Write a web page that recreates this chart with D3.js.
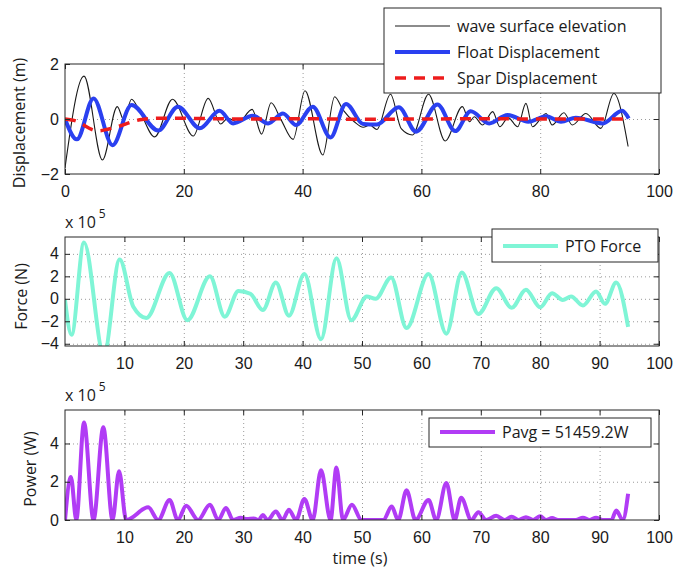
<!DOCTYPE html>
<html>
<head>
<meta charset="utf-8">
<script src="https://cdn.jsdelivr.net/npm/d3@7"></script>
<style>
body { margin: 0; background: #ffffff; }
svg { font-family: "Open Sans", sans-serif; }
.tick line { stroke: #262626; }
.grid line { stroke: #9a9a9a; stroke-dasharray: 1,3; }
</style>
</head>
<body>
<div id="chart"></div>
<script>
// time axis ticks
var timeTicksTop = [0, 20, 40, 60, 80, 100];
var timeTicks = [10, 20, 30, 40, 50, 60, 70, 80, 90, 100];

// y axis ticks
var dispTicks = [-2, 0, 2];
var forceTicks = [-4, -2, 0, 2, 4];
var powerTicks = [0, 2, 4];

// series values: [time (s), value]
var waveElevation = [
    [0, -1.78], [3.2, 1.56], [6.3, -1.49], [8.8, 0.45], [9.9, -0.03], [11.2, 0.72],
    [12.6, 0.27], [15.1, -0.65], [18.1, 0.72], [21.6, -0.62], [24.1, 0.75], [26.2, -0.18],
    [27.4, 0.03], [29.2, -0.12], [31.5, 0.35], [33.1, -0.55], [34.7, 0.59], [36.4, -0.04],
    [38.4, -0.74], [40.4, 1.03], [43.4, -1.31], [45.4, 0.81], [46.8, 0.33], [48.7, -0.1],
    [50.2, -0.3], [51.3, -0.22], [52.5, -0.38], [54.8, 0.9], [56.6, -0.35], [58.5, -0.58],
    [61.2, 0.9], [64, -0.8], [66.9, 0.45], [68.1, -0.1], [68.9, 0.08], [70.3, -0.22],
    [72, 0.27], [73.2, -0.28], [74.6, 0.05], [76.2, -0.28], [77.6, 0.57], [78.7, -0.28],
    [81, 0.2], [82, -0.22], [84, 0.23], [85.4, -0.22], [87.7, 0.2], [90.2, -0.34],
    [92.4, 0.93], [94.8, -1.0]
];
var floatDisplacement = [
    [0, 0], [2, -0.74], [4.8, 0.75], [8, -0.95], [11.2, 0.51], [15.7, -0.42], [19, 0.45],
    [22.7, -0.34], [26, 0.3], [28.3, -0.16], [31.6, 0.12], [34.2, -0.16], [36.7, 0.2],
    [38.9, -0.22], [41.7, 0.45], [44.7, -0.67], [47.3, 0.55], [50.2, -0.18], [52.5, -0.2],
    [56.2, 0.43], [59.1, -0.46], [62.7, 0.53], [65.7, -0.44], [68.3, 0.28], [71.4, -0.16],
    [74.5, 0.15], [78, -0.1], [81, 0.1], [83.5, -0.1], [86, 0.05], [90.5, -0.16],
    [93.8, 0.3], [94.9, 0.02]
];
var sparDisplacement = [
    [0, 0], [1.5, -0.05], [5.5, -0.43], [8.5, -0.3], [12.6, -0.03], [16, 0.03], [22, 0.02],
    [30, 0], [40, 0.01], [50, -0.01], [60, 0], [70, 0.01], [80, 0], [90, 0], [94.9, 0]
];
var ptoForce = [
    [0, -0.1], [1.1, -3.2], [3.2, 5.0], [6.55, -5.0], [9.2, 3.5], [11.5, -0.7], [13.7, -1.7],
    [17.6, 2.3], [20.6, -1.9], [24.4, 2.0], [26.9, -1.6], [29.2, 0.7], [31.2, 0.45],
    [33.3, -1.0], [35.5, 1.45], [37.7, -1.5], [40.3, 2.2], [43.1, -3.6], [45.7, 3.6],
    [48.2, -1.9], [50.8, 0.2], [52.3, 0.0], [54.9, 1.9], [57.5, -2.6], [61.2, 2.2],
    [64.2, -3.1], [66.8, 2.35], [69.6, -1.35], [72.6, 0.95], [75.2, -0.8], [77.6, 0.8],
    [80, -0.75], [82, 0.5], [83.8, -0.1], [85.2, 0.2], [87.2, -0.6], [89.4, 0.65],
    [90.9, -0.45], [92.8, 1.45], [94.8, -2.5]
];
var powerOutput = [
    [0, 0], [1.0, 2.25], [1.9, 0], [3.2, 5.1], [4.8, 0], [6.45, 4.85], [8.0, 0], [9.1, 2.55],
    [10.3, 0], [14, 0.66], [15.7, 0], [17.6, 1.05], [19, 0], [20.4, 0.75], [22.4, 0],
    [24.4, 0.8], [25.8, 0], [27.1, 0.63], [28.3, 0], [29.6, 0.12], [30.6, 0.05], [31.8, 0.08],
    [32.6, 0], [33.3, 0.26], [34.1, 0], [35.5, 0.44], [36.6, 0], [37.7, 0.53], [38.9, 0],
    [40.3, 1.1], [41.7, 0], [43.1, 2.6], [44.7, 0], [45.7, 2.75], [46.8, 0], [48.3, 0.8],
    [49.9, 0], [53.6, 0], [55, 0.7], [56.1, 0], [57.5, 1.55], [59, 0], [61.2, 1.05],
    [62.5, 0], [64.2, 1.93], [65.6, 0], [66.7, 1.16], [68.4, 0], [69.6, 0.4], [70.9, 0],
    [72.6, 0.22], [74, 0], [75.2, 0.17], [76.4, 0], [77.6, 0.15], [78.8, 0], [80, 0.2],
    [81, 0], [82, 0.1], [83, 0], [86, 0], [87.2, 0.12], [88.3, 0], [89.4, 0.12], [90.5, 0],
    [92, 0], [92.8, 0.5], [93.9, 0], [94.8, 1.37]
];

var dispLegend = ["wave surface elevation", "Float Displacement", "Spar Displacement"];
var forceLegend = ["PTO Force"];
var powerLegend = ["Pavg = 51459.2W"];

var width = 684;
var height = 570;
var plotLeft = 65;
var plotRight = 659;
var tickLen = 5;

var svg = d3.select("#chart").append("svg")
    .attr("width", width)
    .attr("height", height);

var x = d3.scaleLinear().domain([0, 100]).range([plotLeft, plotRight]);
var intFormat = d3.format("d");

var line = function(yScale) {
    return d3.line()
        .x(function(d) { return x(d[0]); })
        .y(function(d) { return yScale(d[1]); })
        .curve(d3.curveMonotoneX);
};

var drawPanel = function(opts) {
    var y = d3.scaleLinear().domain(opts.yDomain).range([opts.bottom, opts.top]);
    var g = svg.append("g");
    var h = opts.bottom - opts.top;
    var w = plotRight - plotLeft;

    // grid
    g.append("g").attr("class", "grid")
        .attr("transform", "translate(0," + opts.bottom + ")")
        .call(d3.axisBottom(x).tickValues(opts.xTicks.filter(function(t) { return t > 0 && t < 100; }))
            .tickSize(-h).tickFormat(""))
        .select(".domain").remove();
    g.append("g").attr("class", "grid")
        .attr("transform", "translate(" + plotLeft + ",0)")
        .call(d3.axisLeft(y).tickValues(opts.yTicks.filter(function(t) {
                return y(t) > opts.top + 2 && y(t) < opts.bottom - 2;
            }))
            .tickSize(-w).tickFormat(""))
        .select(".domain").remove();

    // series
    var clipId = "clip" + opts.top;
    svg.append("clipPath").attr("id", clipId)
        .append("rect")
        .attr("x", plotLeft).attr("y", opts.top)
        .attr("width", w).attr("height", h);

    var seriesGroup = g.append("g").attr("clip-path", "url(#" + clipId + ")");
    opts.series.forEach(function(s) {
        seriesGroup.append("path")
            .datum(s.data)
            .attr("fill", "none")
            .attr("stroke", s.colour)
            .attr("stroke-width", s.width)
            .attr("stroke-dasharray", s.dash || null)
            .attr("stroke-linejoin", "round")
            .attr("d", line(y));
    });

    // axes with inward ticks
    var xAxis = g.append("g")
        .attr("transform", "translate(0," + opts.bottom + ")")
        .call(d3.axisBottom(x).tickValues(opts.xTicks).tickFormat(intFormat)
            .tickSizeInner(-tickLen).tickSizeOuter(0).tickPadding(12));
    xAxis.selectAll("text").attr("font-size", "16px").attr("fill", "#1a1a1a");
    g.append("g")
        .attr("transform", "translate(0," + opts.top + ")")
        .call(d3.axisTop(x).tickValues(opts.xTicks).tickSizeInner(-tickLen).tickSizeOuter(0).tickFormat(""));
    var yAxis = g.append("g")
        .attr("transform", "translate(" + plotLeft + ",0)")
        .call(d3.axisLeft(y).tickValues(opts.yTicks).tickFormat(intFormat)
            .tickSizeInner(-tickLen).tickSizeOuter(0).tickPadding(6));
    yAxis.selectAll("text").attr("font-size", "16px").attr("fill", "#1a1a1a");
    g.append("g")
        .attr("transform", "translate(" + plotRight + ",0)")
        .call(d3.axisRight(y).tickValues(opts.yTicks).tickSizeInner(-tickLen).tickSizeOuter(0).tickFormat(""));
    g.selectAll(".domain").remove();

    // box
    g.append("rect")
        .attr("x", plotLeft).attr("y", opts.top)
        .attr("width", w).attr("height", h)
        .attr("fill", "none")
        .attr("stroke", "#262626")
        .attr("stroke-width", 1);

    // y label
    g.append("text")
        .attr("transform", "translate(" + opts.labelX + "," + ((opts.top + opts.bottom) / 2 + opts.labelShift) + ") rotate(-90)")
        .attr("text-anchor", "middle")
        .attr("font-size", "16px")
        .attr("fill", "#1a1a1a")
        .text(opts.yLabel);

    // exponent label
    if (opts.exponent) {
        var ex = g.append("text")
            .attr("x", plotLeft)
            .attr("y", opts.top - 9)
            .attr("font-size", "16px")
            .attr("fill", "#1a1a1a")
            .text("x 10");
        ex.append("tspan")
            .attr("dx", 3)
            .attr("dy", -10)
            .attr("font-size", "12px")
            .text(opts.exponent);
    }

    // legend
    var lg = opts.legend;
    var leg = svg.append("g");
    leg.append("rect")
        .attr("x", lg.x).attr("y", lg.y)
        .attr("width", lg.w).attr("height", lg.h)
        .attr("fill", "#ffffff")
        .attr("stroke", "#262626")
        .attr("stroke-width", 1);
    lg.labels.forEach(function(label, i) {
        var s = opts.series[i];
        var ry = lg.y + lg.first + i * lg.step;
        leg.append("line")
            .attr("x1", lg.x + 11).attr("x2", lg.x + 66)
            .attr("y1", ry).attr("y2", ry)
            .attr("stroke", s.colour)
            .attr("stroke-width", s.width)
            .attr("stroke-dasharray", s.dash || null);
        leg.append("text")
            .attr("x", lg.x + 73)
            .attr("y", ry)
            .attr("dy", "0.35em")
            .attr("font-size", "16px")
            .attr("fill", "#1a1a1a")
            .text(label);
    });
};

drawPanel({
    top: 64, bottom: 174, yDomain: [-2, 2],
    xTicks: timeTicksTop, yTicks: dispTicks,
    yLabel: "Displacement (m)", labelX: 25, labelShift: 4,
    series: [
        {data: waveElevation, colour: "#1a1a1a", width: 1.1},
        {data: floatDisplacement, colour: "#2a40f0", width: 4},
        {data: sparDisplacement, colour: "#ee1c1c", width: 3.5, dash: "11,8"}
    ],
    legend: {x: 384, y: 8, w: 277, h: 85, first: 18, step: 26, labels: dispLegend}
});

drawPanel({
    top: 237, bottom: 346, yDomain: [-4.2, 5.5],
    xTicks: timeTicks, yTicks: forceTicks,
    yLabel: "Force (N)", labelX: 27, labelShift: 5,
    exponent: "5",
    series: [
        {data: ptoForce, colour: "#7ff5d6", width: 4}
    ],
    legend: {x: 492, y: 229, w: 166, h: 33, first: 17, step: 0, labels: forceLegend}
});

drawPanel({
    top: 410, bottom: 520, yDomain: [0, 5.75],
    xTicks: timeTicks, yTicks: powerTicks,
    yLabel: "Power (W)", labelX: 36, labelShift: 4,
    exponent: "5",
    series: [
        {data: powerOutput, colour: "#b13cf5", width: 4}
    ],
    legend: {x: 429, y: 418, w: 222, h: 29, first: 14, step: 0, labels: powerLegend}
});

svg.append("text")
    .attr("x", 360)
    .attr("y", 564)
    .attr("text-anchor", "middle")
    .attr("font-size", "16px")
    .attr("fill", "#1a1a1a")
    .text("time (s)");
</script>
</body>
</html>
